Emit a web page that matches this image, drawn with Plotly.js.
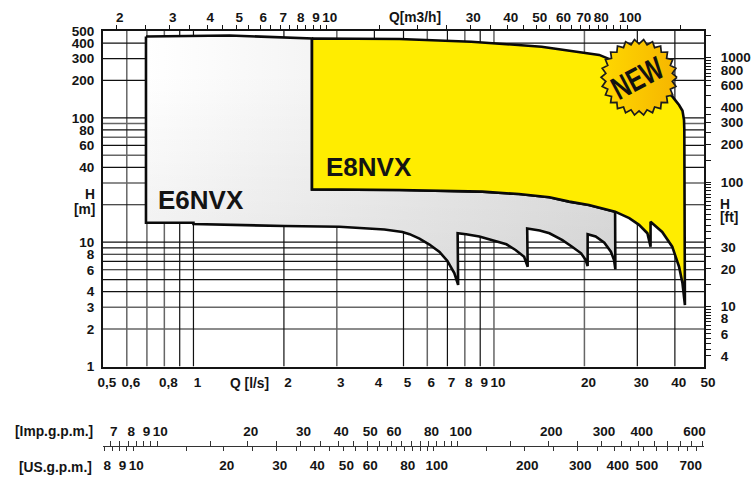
<!DOCTYPE html>
<html>
<head>
<meta charset="utf-8">
<script src="https://cdn.plot.ly/plotly-3.0.1.min.js"></script>
<style>html,body{margin:0;padding:0;background:#fff}#chart{width:755px;height:480px}</style>
</head>
<body>
<div id="chart"></div>
<script>
// ---------- grid lines ----------
const gridBlackQ = [0.9, 1, 2, 5, 7, 9, 30, 40];
const gridGrayQ  = [0.6, 0.7, 0.8, 3, 6, 8, 10, 20];
const gridUpperQ = [4];            // this line only shows in the strip above the envelopes
const gridBlackH = [400, 300, 200, 100, 80, 60, 40, 20, 10, 9, 8, 7, 6, 5, 4];
const gridGrayH  = [90, 70, 50, 30, 3, 2];

// ---------- E6NVX envelope: Q [l/s], H [m] ----------
const e6Q = [0.695, 1.32, 2.48, 2.48, 4.85, 6.59, 9.15, 12.1, 15.3, 17.8, 20.7, 25.3,
  25.35, 25.1, 24.5, 23.3, 21.8, 20.5,
  20.5, 20.2, 19.5, 18.2, 16.9, 15.3, 14.2, 12.9,
  12.95, 12.6, 11.8, 11.0, 9.88, 8.94, 8.08, 7.57,
  7.6, 7.38, 7.0, 6.59, 6.1, 5.65, 5.24, 4.96, 4.32, 3.86, 3.06, 2.01, 1.0, 1.0, 0.695, 0.695];
const e6H = [452, 460, 435, 26.6, 26.3, 26.0, 25.5, 24.4, 23.0, 21.2, 19.9, 17.6,
  6.05, 7.19, 8.39, 9.91, 11.1, 11.6,
  6.43, 7.19, 8.14, 9.2, 10.4, 11.8, 12.4, 12.9,
  6.35, 7.64, 8.66, 9.62, 10.4, 11.1, 11.6, 11.8,
  4.53, 5.65, 7.06, 8.34, 9.58, 10.7, 11.6, 12.1, 12.65, 12.9, 13.3, 13.5, 14.0, 14.35, 14.35, 452];

// ---------- E8NVX envelope: Q [l/s], H [m] ----------
const e8Q = [2.48, 4.85, 8.41, 14.4, 22.4, 26.1, 32.8, 39.1, 40.1, 41.3, 42.4, 42.9, 43.0, 43.0, 43.2,
  42.4, 41.3, 39.2, 36.3, 33.2, 33.2,
  32.4, 30.4, 28.2, 25.3, 20.7, 17.8, 15.3, 12.1, 9.15, 6.59, 4.85, 2.48, 2.48];
const e8H = [435, 431, 410, 374, 321, 276, 209, 150, 139, 127, 114, 96.2, 79.9, 60, 3.12,
  4.67, 6.35, 9.2, 12.1, 14.6, 9.2,
  11.8, 13.8, 15.6, 17.6, 19.9, 21.2, 23.0, 24.4, 25.5, 26.0, 26.3, 26.6, 435];

// ---------- axis ticks ----------
const qLabels = [0.5, 0.6, 0.8, 1, 2, 3, 4, 5, 6, 7, 8, 9, 10, 20, 30, 40, 50];
const qText = ['0,5', '0,6', '0,8', '1', '2', '3', '4', '5', '6', '7', '8', '9', '10', '20', '30', '40', '50'];
const hLabels = [500, 400, 300, 200, 100, 80, 60, 40, 10, 8, 6, 4, 3, 2, 1];

const m3hTicks = [2, 2.5, 3, 3.5, 4, 4.5, 5, 5.5, 6, 6.5, 7, 7.5, 8, 8.5, 9, 9.5, 10, 15, 20, 25, 30, 35, 40, 45, 50, 55, 60, 65, 70, 75, 80, 85, 90, 95, 100, 150];
const m3hLabels = [2, 3, 4, 5, 6, 7, 8, 9, 10, 30, 40, 50, 60, 70, 80, 100];

const ftTicks = [4, 4.5, 5, 5.5, 6, 6.5, 7, 7.5, 8, 8.5, 9, 9.5, 10, 15, 20, 25, 30, 35, 40, 45, 50, 55, 60, 65, 70, 75, 80, 85, 90, 95, 100, 150, 200, 250, 300, 350, 400, 500, 600, 650, 700, 750, 800, 850, 900, 950, 1000, 1500];
const ftLabels = [1000, 800, 600, 400, 300, 200, 100, 30, 20, 10, 8, 6, 4];

const impTicks = [7, 7.5, 8, 8.5, 9, 9.5, 10, 15, 20, 25, 30, 35, 40, 45, 50, 55, 60, 65, 70, 75, 80, 85, 90, 95, 100, 150, 200, 250, 300, 350, 400, 450, 500, 550, 600, 650];
const impLabels = [7, 8, 9, 10, 20, 30, 40, 50, 60, 80, 100, 200, 300, 400, 600];
const usTicks = [8, 8.5, 9, 9.5, 10, 15, 20, 25, 30, 35, 40, 45, 50, 55, 60, 65, 70, 75, 80, 85, 90, 95, 100, 150, 200, 250, 300, 350, 400, 450, 500, 550, 600, 650, 700, 750];
const usLabels = [8, 9, 10, 20, 30, 40, 50, 60, 80, 100, 200, 300, 400, 500, 700];

// ---------- conversion factors from l/s and m ----------
const M3H_PER_LS = 3.6, IMP_PER_LS = 13.198, US_PER_LS = 15.85, FT_PER_M = 3.2808;
const Q_MIN = 0.5, Q_MAX = 50, H_MIN = 1, H_MAX = 500;

// ---------- layout frame ----------
const W = 755, H = 480, PL = 103, PR = 704.5, PT = 31, PB = 366.5, FB = 470, SCALE_Y = 446;
const plotH = FB - PT, plotW = PR - PL;
const px = x => (x - PL) / plotW;
const py = y => (FB - y) / plotH;

const INK = '#141414';
const tickText = (vals, labels) => vals.map(v => labels.includes(v) ? String(v) : '');
const lg = Math.log10;
const font = size => ({family: 'Liberation Sans, Arial, sans-serif', size, color: INK, weight: 'bold'});

function vLines(vals, lo, hi) { const x = [], y = []; vals.forEach(v => { x.push(v, v, null); y.push(lo, hi, null); }); return {x, y}; }
function hLines(vals) { const x = [], y = []; vals.forEach(v => { x.push(Q_MIN, Q_MAX, null); y.push(v, v, null); }); return {x, y}; }
const merge = (a, b) => ({x: a.x.concat(b.x), y: a.y.concat(b.y)});

// ---------- badge star, in log space of the main axes ----------
const badgeQ = 30.4, badgeH = 212, badgeR = 38, badgeTeeth = 26;
const pxPerDecX = plotW / lg(Q_MAX / Q_MIN), pxPerDecY = (PB - PT) / lg(H_MAX / H_MIN);
const starQ = [], starH = [];
for (let i = 0; i <= badgeTeeth * 2; i++) {
  const r = i % 2 ? badgeR - 4.5 : badgeR, t = Math.PI * i / badgeTeeth;
  starQ.push(badgeQ * Math.pow(10, r * Math.cos(t) / pxPerDecX));
  starH.push(badgeH * Math.pow(10, r * Math.sin(t) / pxPerDecY));
}

const black = merge(merge(vLines(gridBlackQ, H_MIN, H_MAX), vLines(gridUpperQ, 100, H_MAX)), hLines(gridBlackH));
const gray = merge(vLines(gridGrayQ, H_MIN, H_MAX), hLines(gridGrayH));

const traces = [
  {x: gray.x, y: gray.y, mode: 'lines', line: {color: '#666666', width: 1.5}, hoverinfo: 'skip'},
  {x: black.x, y: black.y, mode: 'lines', line: {color: '#111111', width: 1.2}, hoverinfo: 'skip'},
  {x: e6Q, y: e6H, mode: 'lines', fill: 'toself', line: {width: 0, color: 'rgba(0,0,0,0)'},
    fillgradient: {type: 'horizontal', colorscale: [[0, '#ffffff'], [1, '#e2e2e2']]}, hoverinfo: 'skip'},
  {x: e6Q, y: e6H, mode: 'lines', fill: 'toself', line: {width: 2.6, color: '#0a0a0a'},
    fillgradient: {type: 'vertical', colorscale: [[0, 'rgba(0,0,0,0.07)'], [0.85, 'rgba(0,0,0,0)'], [1, 'rgba(0,0,0,0)']]}, hoverinfo: 'skip'},
  {x: e8Q, y: e8H, mode: 'lines', fill: 'toself', fillcolor: '#FFED00', line: {width: 2.6, color: '#0a0a0a'}, hoverinfo: 'skip'},
  {x: starQ, y: starH, mode: 'lines', fill: 'toself', line: {width: 1.7, color: '#1c1c1c'},
    fillgradient: {type: 'horizontal', colorscale: [[0, '#FFD800'], [1, '#F6B500']]}, hoverinfo: 'skip'},
  // carriers so that every extra scale is attached to a subplot
  {x: [m3hTicks[0]], y: [1], xaxis: 'x2', yaxis: 'y', mode: 'none', hoverinfo: 'skip'},
  {x: [1], y: [ftTicks[0]], xaxis: 'x', yaxis: 'y2', mode: 'none', hoverinfo: 'skip'},
  {x: [impTicks[0]], y: [1], xaxis: 'x3', yaxis: 'y', mode: 'none', hoverinfo: 'skip'},
  {x: [usTicks[0]], y: [1], xaxis: 'x4', yaxis: 'y', mode: 'none', hoverinfo: 'skip'}
];

const domY = [py(PB), 1];
const tickBase = {type: 'log', tickmode: 'array', showgrid: false, zeroline: false, tickangle: 0, tickfont: font(13.5), fixedrange: true};

const layout = {
  width: W, height: H, showlegend: false,
  margin: {l: PL, r: W - PR, t: PT, b: H - FB, pad: 0},
  paper_bgcolor: '#fff', plot_bgcolor: '#fff',
  xaxis: Object.assign({}, tickBase, {
    range: [lg(Q_MIN), lg(Q_MAX)], domain: [0, 1], anchor: 'y', side: 'bottom',
    tickvals: qLabels, ticktext: qText, ticks: '', ticklabelstandoff: 2, ticklabelshift: 4,
    showline: true, linecolor: INK, linewidth: 2}),
  yaxis: Object.assign({}, tickBase, {
    range: [lg(H_MIN), lg(H_MAX)], domain: domY, anchor: 'x', side: 'left',
    tickvals: hLabels, ticktext: hLabels.map(String), ticks: '', ticklabelstandoff: 4,
    showline: true, linecolor: INK, linewidth: 2}),
  xaxis2: Object.assign({}, tickBase, {
    range: [lg(Q_MIN * M3H_PER_LS), lg(Q_MAX * M3H_PER_LS)], overlaying: 'x', anchor: 'y', side: 'top',
    tickvals: m3hTicks, ticktext: tickText(m3hTicks, m3hLabels), ticks: 'outside', ticklen: 4, tickwidth: 1, tickcolor: INK,
    ticklabelstandoff: -2, ticklabelshift: 3, showline: true, linecolor: INK, linewidth: 2}),
  yaxis2: Object.assign({}, tickBase, {
    range: [lg(H_MIN * FT_PER_M), lg(H_MAX * FT_PER_M)], overlaying: 'y', domain: domY, anchor: 'x', side: 'right',
    tickvals: ftTicks, ticktext: tickText(ftTicks, ftLabels), ticks: 'outside', ticklen: 5, tickwidth: 1, tickcolor: INK,
    ticklabelstandoff: 7, showline: true, linecolor: INK, linewidth: 2}),
  xaxis3: Object.assign({}, tickBase, {
    range: [lg(Q_MIN * IMP_PER_LS), lg(Q_MAX * IMP_PER_LS)], overlaying: 'x', anchor: 'free', position: py(SCALE_Y), side: 'top',
    tickvals: impTicks, ticktext: tickText(impTicks, impLabels), ticks: 'outside', ticklen: 5, tickwidth: 1, tickcolor: '#333',
    ticklabelstandoff: 0, ticklabelshift: 3, showline: true, linecolor: '#333', linewidth: 1}),
  xaxis4: Object.assign({}, tickBase, {
    range: [lg(Q_MIN * US_PER_LS), lg(Q_MAX * US_PER_LS)], overlaying: 'x', anchor: 'free', position: py(SCALE_Y), side: 'bottom',
    tickvals: usTicks, ticktext: tickText(usTicks, usLabels), ticks: 'outside', ticklen: 4, tickwidth: 1, tickcolor: '#333',
    ticklabelstandoff: 3, ticklabelshift: 3, showline: true, linecolor: '#333', linewidth: 1}),
  annotations: [
    {text: 'E6NVX', x: 201.5, y: 200, size: 26},
    {text: 'E8NVX', x: 369.5, y: 166.7, size: 26},
    {text: 'Q[m3/h]', x: 415, y: 18, size: 13.8},
    {text: 'Q [l/s]', x: 250, y: 383, size: 13.8},
    {text: 'H', x: 96, y: 195, size: 13.8, xanchor: 'right'},
    {text: '[m]', x: 96, y: 209, size: 13.8, xanchor: 'right'},
    {text: 'H', x: 720, y: 204, size: 13.8, xanchor: 'left'},
    {text: '[ft]', x: 720, y: 217, size: 13.8, xanchor: 'left'},
    {text: '[Imp.g.p.m.]', x: 93.5, y: 431, size: 13.8, xanchor: 'right'},
    {text: '[US.g.p.m.]', x: 93, y: 467, size: 13.8, xanchor: 'right'}
  ].map(a => ({
    text: a.text, xref: 'paper', yref: 'paper', x: px(a.x), y: py(a.y),
    xanchor: a.xanchor || 'center', yanchor: 'middle', showarrow: false, borderpad: 0,
    font: font(a.size)
  })).concat([{
    text: 'NEW', xref: 'paper', yref: 'paper', x: px(638), y: py(78), xanchor: 'center', yanchor: 'middle',
    showarrow: false, textangle: -28, borderpad: 0,
    font: {family: 'Liberation Sans, sans-serif', size: 32, color: '#111', weight: 'bold'}
  }])
};

Plotly.newPlot('chart', traces, layout, {staticPlot: true, displayModeBar: false}).then(gd => {
  // the badge lettering is condensed: squeeze the real text to the badge's width
  gd.querySelectorAll('.annotation-text').forEach(t => {
    if (t.textContent === 'NEW') {
      t.setAttribute('textLength', '54');
      t.setAttribute('lengthAdjust', 'spacingAndGlyphs');
    }
  });
});
</script>
</body>
</html>
